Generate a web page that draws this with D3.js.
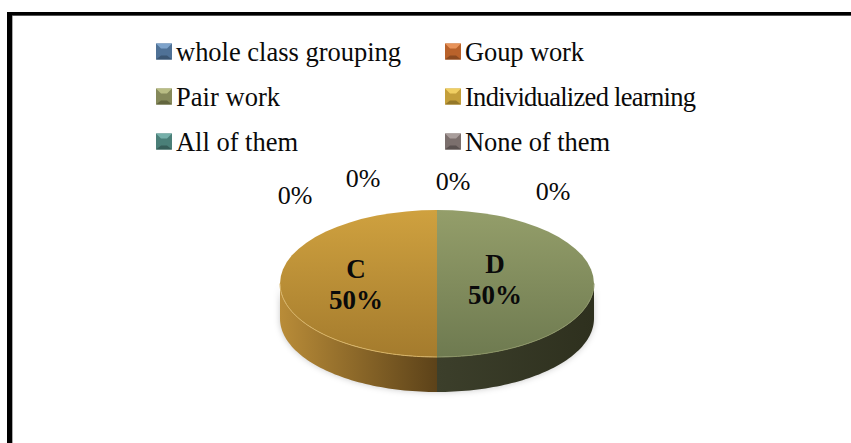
<!DOCTYPE html>
<html><head><meta charset="utf-8">
<script src="https://cdn.jsdelivr.net/npm/d3@7"></script>
<style>html,body{margin:0;padding:0;background:#fff;overflow:hidden}text{font-family:"Liberation Serif",serif;fill:#0a0a0a}</style>
</head><body><svg id="c" width="851" height="443"></svg>
<script>
const categories = ["whole class grouping","Goup work","Pair work","Individualized learning","All of them","None of them"];
const values = [0,0,50,50,0,0];
const sliceLetters = ["A","B","D","C","E","F"];
const topLight = ["#7ea3cb","#e8935a","#b9bd84","#f0cf62","#76b0aa","#a99e9c"];
const sideMid = ["#4f7196","#b9622b","#85895a","#c49f3a","#4a7f78","#7b6f6d"];
const bottomDark = ["#3b5673","#8c4a20","#63663f","#957829","#365e59","#5a5150"];
const pieTopLight = {D:"#949e6a",C:"#cfa13f"};
const pieTopDark = {D:"#6e7a50",C:"#a47b2d"};
const wallOuter = {D:"#2e301e",C:"#b98c38"};
const wallInner = {D:"#3c3f2b",C:"#5c4219"};

const svg = d3.select("#c");
const defs = svg.append("defs");
// frame
svg.append("rect").attr("x",12).attr("y",15).attr("width",1).attr("height",428).attr("fill","#aaa");
svg.append("rect").attr("x",12).attr("y",15).attr("width",839).attr("height",1).attr("fill","#aaa");
svg.append("rect").attr("x",7).attr("y",12).attr("width",5).attr("height",431).attr("fill","#000");
svg.append("rect").attr("x",7).attr("y",12).attr("width",844).attr("height",3.5).attr("fill","#000");

// legend
const col = d3.scaleOrdinal().domain([0,1]).range([156,445]);
const row = d3.scaleLinear().domain([0,2]).range([43.5,133.5]);
const legendWidths = [225,119,104,231,122,145];
const ms = 16;
const lg = svg.append("g").selectAll("g").data(categories).join("g")
  .attr("transform",(d,i)=>`translate(${col(i%2)},${row(Math.floor(i/2))})`);
lg.append("rect").attr("width",ms).attr("height",ms).attr("fill",(d,i)=>sideMid[i]);
lg.append("path").attr("d",`M0 0H${ms}L${ms-5} 5H5Z`).attr("fill",(d,i)=>topLight[i]);
lg.append("path").attr("d",`M0 ${ms}H${ms}L${ms-5} ${ms-4}H5Z`).attr("fill",(d,i)=>bottomDark[i]);
lg.append("text").attr("x",ms+4).attr("y",ms+1.5).attr("font-size",26.5)
  .attr("textLength",(d,i)=>legendWidths[i]).attr("lengthAdjust","spacing").text(d=>d);

// pie
const cx=437, cy=283.5, rx=157, ry=73.5, depth=35;
const slices = d3.pie().sort(null)(values);
const arc = d3.arc().innerRadius(0).outerRadius(1);
const active = slices.filter(s=>s.value>0);
const letter = s=>sliceLetters[s.index];

const blur = defs.append("filter").attr("id","soft").attr("x","-10%").attr("y","-10%").attr("width","120%").attr("height","130%");
blur.append("feGaussianBlur").attr("stdDeviation",3);

active.forEach(s=>{
  const k=letter(s);
  const t=defs.append("linearGradient").attr("id","top"+k)
    .attr("x1",0).attr("x2",0).attr("y1",0).attr("y2",1);
  t.append("stop").attr("offset",0).attr("stop-color",pieTopLight[k]);
  t.append("stop").attr("offset",1).attr("stop-color",pieTopDark[k]);
  const w=defs.append("linearGradient").attr("id","wall"+k).attr("gradientUnits","userSpaceOnUse")
    .attr("y1",0).attr("y2",0).attr("x1",k==="D"?cx+rx:cx-rx).attr("x2",cx);
  w.append("stop").attr("offset",0).attr("stop-color",wallOuter[k]);
  w.append("stop").attr("offset",1).attr("stop-color",wallInner[k]);
});

const wallArea = d3.area().x(a=>cx+rx*Math.sin(a)).y0(a=>cy-ry*Math.cos(a)).y1(a=>cy-ry*Math.cos(a)+depth);
const visibleAngles = s=>{
  const lo=Math.max(s.startAngle,Math.PI/2), hi=Math.min(s.endAngle,3*Math.PI/2);
  return d3.range(0,61).map(i=>lo+(hi-lo)*i/60);
};
// shadow
svg.append("g").attr("filter","url(#soft)").selectAll("path").data(active).join("path")
  .attr("d",s=>wallArea(visibleAngles(s))).attr("fill","#000").attr("opacity",.22);
// walls
svg.append("g").selectAll("path").data(active).join("path")
  .attr("d",s=>wallArea(visibleAngles(s))).attr("fill",s=>`url(#wall${letter(s)})`);
// tops
svg.append("g").selectAll("path").data(active).join("path")
  .attr("transform",`translate(${cx},${cy}) scale(${rx},${ry})`)
  .attr("d",s=>arc(s)).attr("fill",s=>`url(#top${letter(s)})`);
// rim highlight on front edge
const rim = d3.line().x(a=>cx+rx*Math.sin(a)).y(a=>cy-ry*Math.cos(a));
svg.append("g").selectAll("path").data(active).join("path")
  .attr("d",s=>rim(visibleAngles(s))).attr("fill","none").attr("stroke",s=>letter(s)==="C"?"#d9b465":"#8b9464").attr("stroke-width",1);

// data labels
const zeroSpots=[[295,204],[363,187],[453,190],[553,200]];
const zeroVals=slices.filter(s=>s.value===0);
svg.append("g").selectAll("text").data(zeroVals).join("text")
  .attr("x",(d,i)=>zeroSpots[i][0]).attr("y",(d,i)=>zeroSpots[i][1]).attr("text-anchor","middle").attr("font-size",26)
  .text(d=>d3.format(".0%")(d.value/d3.sum(values)));
const spots={C:[356,278],D:[495,273]};
const gl=svg.append("g").selectAll("g").data(active).join("g")
  .attr("transform",s=>`translate(${spots[letter(s)]})`);
gl.append("text").attr("text-anchor","middle").attr("font-size",27).attr("font-weight","bold").text(s=>letter(s));
gl.append("text").attr("text-anchor","middle").attr("y",31).attr("font-size",27).attr("font-weight","bold")
  .text(s=>d3.format(".0%")(s.value/d3.sum(values)));
</script></body></html>
